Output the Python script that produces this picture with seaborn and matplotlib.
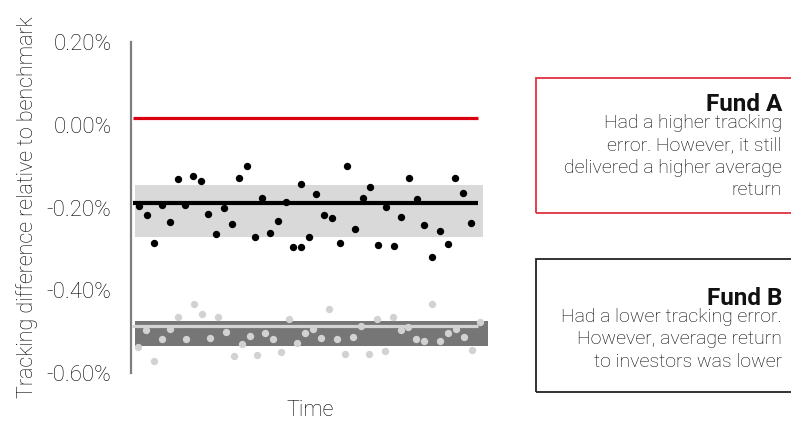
import matplotlib
matplotlib.use('Agg')
import matplotlib.pyplot as plt
import numpy as np
import pandas as pd
import seaborn as sns
from matplotlib.patches import Rectangle

# fund A observations (tracking difference, %), period 21 has two points
periods_a = list(range(22)) + [21] + list(range(22, 44))
fund_a = [-0.196, -0.218, -0.285, -0.194, -0.235, -0.132, -0.194, -0.125, -0.136, -0.215,
          -0.263, -0.201, -0.240, -0.129, -0.100, -0.270, -0.177, -0.261, -0.232, -0.187,
          -0.295, -0.143, -0.295, -0.270, -0.167, -0.218, -0.225, -0.285, -0.100, -0.251,
          -0.177, -0.151, -0.290, -0.199, -0.292, -0.223, -0.129, -0.180, -0.242, -0.319,
          -0.256, -0.288, -0.129, -0.165, -0.237]

# fund B observations
fund_b = [-0.537, -0.496, -0.571, -0.518, -0.494, -0.465, -0.518, -0.434, -0.458, -0.516,
          -0.465, -0.501, -0.559, -0.530, -0.511, -0.556, -0.503, -0.518, -0.549, -0.468,
          -0.528, -0.503, -0.494, -0.516, -0.444, -0.518, -0.554, -0.513, -0.487, -0.554,
          -0.468, -0.547, -0.463, -0.496, -0.489, -0.518, -0.523, -0.434, -0.523, -0.503,
          -0.492, -0.513, -0.544, -0.477]

# summary lines / bands
fund_a_line = 0.017
fund_a_avg = -0.189
fund_a_band = (-0.272, -0.145)
fund_b_avg = -0.487
fund_b_band = (-0.534, -0.475)

yticks = [0.2, 0.0, -0.2, -0.4, -0.6]

RED = '#db0011'
TXT = '#000000'

sns.set_style("white")
plt.rcParams['font.family'] = ['Roboto', 'DejaVu Sans']

fig = plt.figure(figsize=(7.91, 4.23), dpi=100)
ax = fig.add_axes([131/791, 1-373.3/423, (490-131)/791, (373.3-41.7)/423])

df_a = pd.DataFrame({'t': periods_a, 'v': fund_a})
t_b = np.linspace(-0.1, 44.2, len(fund_b))
df_b = pd.DataFrame({'t': t_b, 'v': fund_b})

# bands
ax.fill_between([-0.5, 44.6], fund_a_band[0], fund_a_band[1], color='#d9d9d9', lw=0, zorder=1)
ax.fill_between([-0.5, 45.3], fund_b_band[0], fund_b_band[1], color='#767676', lw=0, zorder=1)

# lines
ax.hlines(fund_a_line, -0.78, 43.9, color=RED, lw=2.3, zorder=2)
ax.hlines(fund_a_avg, -0.78, 43.9, color='black', lw=3.0, zorder=2)
ax.hlines(fund_b_avg, -0.9, 43.9, color='#d4d4d4', lw=2.3, zorder=2)

# dots
sns.scatterplot(data=df_a, x='t', y='v', ax=ax, color='black', s=28, linewidth=0, zorder=3)
sns.scatterplot(data=df_b, x='t', y='v', ax=ax, color='#d2d2d2', s=28, linewidth=0, zorder=3)

ax.set_xlim(-1.04, 45.5)
ax.set_ylim(-0.6, 0.2)
ax.set_yticks(yticks)
ax.set_yticklabels([f"{v:.2f}%" for v in yticks], fontsize=16, color=TXT, fontweight='light')
ax.set_xticks([])
ax.tick_params(axis='y', length=0, pad=14)
for s in ['top', 'right', 'bottom']:
    ax.spines[s].set_visible(False)
ax.spines['left'].set_color('#7f7f7f')
ax.spines['left'].set_linewidth(1.6)
ax.set_ylabel('Tracking difference relative to benchmark', fontsize=15.5, color=TXT,
              labelpad=6, fontweight='light')
ax.set_xlabel('Time', fontsize=15.5, color=TXT, labelpad=19, fontweight='light')

# annotation boxes
fig.patches.append(Rectangle((536/791, 1-213/423), (800-536)/791, (213-78)/423,
                             transform=fig.transFigure, fill=False, edgecolor='#e03040', lw=1.3))
fig.patches.append(Rectangle((536/791, 1-392/423), (800-536)/791, (392-259)/423,
                             transform=fig.transFigure, fill=False, edgecolor='#222222', lw=1.3))

fig.text(782/791, 1-111/423, 'Fund A', ha='right', va='baseline', fontsize=17.5,
         fontweight='bold', color='#111111')
fig.text(782/791, 1-114/423, 'Had a higher tracking\nerror. However, it still\ndelivered a higher average\nreturn',
         ha='right', va='top', multialignment='right', fontsize=14, linespacing=1.32,
         color=TXT, fontweight='light')
fig.text(782/791, 1-305/423, 'Fund B', ha='right', va='baseline', fontsize=17.5,
         fontweight='bold', color='#111111')
fig.text(782/791, 1-308/423, 'Had a lower tracking error.\nHowever, average return\nto investors was lower',
         ha='right', va='top', multialignment='right', fontsize=14, linespacing=1.32,
         color=TXT, fontweight='light')

fig.savefig('out.png', dpi=100)
